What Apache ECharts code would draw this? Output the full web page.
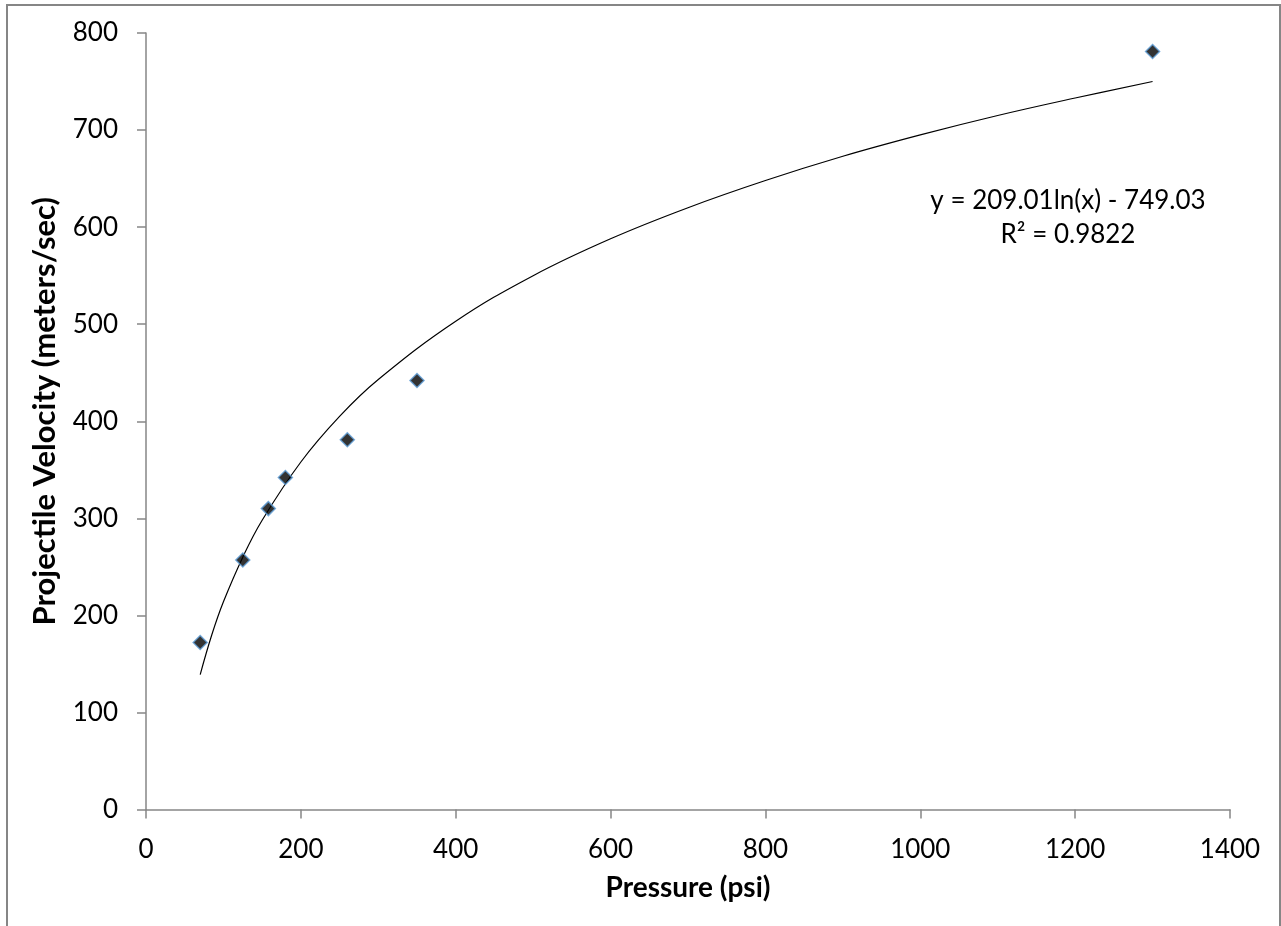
<!DOCTYPE html>
<html>
<head>
<meta charset="utf-8">
<script src="https://cdn.jsdelivr.net/npm/echarts@6/dist/echarts.min.js"></script>
<style>
  html, body { margin: 0; padding: 0; background: #fff; }
  #main { width: 1281px; height: 926px; }
</style>
</head>
<body>
<div id="main"></div>
<script>
// measured points (pressure psi, velocity m/s)
const pressure = [70, 125, 158, 180, 260, 350, 1300];
const velocity = [172, 257, 310, 342, 381, 442, 781];

// trend line
const trendX = [70, 85, 100, 125, 150, 200, 250, 300, 400, 500, 600, 700, 800, 900, 1000, 1100, 1200, 1300];
const trendY = [139, 180, 214, 260, 298, 358, 405, 443, 503, 550, 588, 620, 648, 673, 695, 715, 733, 750];

const eqLine1 = 'y = 209.01ln(x) - 749.03';
const eqLine2 = 'R² = 0.9822';

const axisGray = '#868686';
const font = 'Lato, "Open Sans", sans-serif';

const chart = echarts.init(document.getElementById('main'));

chart.setOption({
  animation: false,
  backgroundColor: '#fff',
  grid: { left: 146, top: 33, right: 51, bottom: 116.5 },
  xAxis: {
    type: 'value',
    min: 0, max: 1400, interval: 200,
    name: 'Pressure (psi)',
    nameLocation: 'middle',
    nameGap: 64,
    nameTextStyle: { fontFamily: font, fontSize: 28, fontWeight: 'bold', color: '#000' },
    axisLine: { show: true, lineStyle: { color: axisGray, width: 1.5 } },
    axisTick: { show: true, length: 9, lineStyle: { color: axisGray, width: 1.5 } },
    axisLabel: { fontFamily: font, fontSize: 26, color: '#000', margin: 27, formatter: v => String(v) },
    splitLine: { show: false }
  },
  yAxis: {
    type: 'value',
    min: 0, max: 800, interval: 100,
    name: 'Projectile Velocity (meters/sec)',
    nameLocation: 'middle',
    nameGap: 86,
    nameTextStyle: { fontFamily: font, fontSize: 31, fontWeight: 'bold', color: '#000', padding: [0, 0, 0, 20] },
    axisLine: { show: true, lineStyle: { color: axisGray, width: 1.5 } },
    axisTick: { show: true, length: 9, lineStyle: { color: axisGray, width: 1.5 } },
    axisLabel: { fontFamily: font, fontSize: 26, color: '#000', margin: 28 },
    splitLine: { show: false }
  },
  series: [
    {
      type: 'line',
      data: trendX.map((x, i) => [x, trendY[i]]),
      smooth: 0.4,
      showSymbol: false,
      lineStyle: { color: '#000', width: 1.2 },
      z: 2
    },
    {
      type: 'scatter',
      data: pressure.map((x, i) => [x, velocity[i]]),
      symbol: 'diamond',
      symbolSize: 14,
      itemStyle: { color: '#000', borderColor: '#5B9BD5', borderWidth: 1.5 },
      z: 3
    }
  ],
  graphic: [
    {
      type: 'rect',
      shape: { x: 7, y: 5, width: 1273, height: 1000 },
      style: { fill: 'none', stroke: axisGray, lineWidth: 2 },
      silent: true
    },
    {
      type: 'text',
      x: 1068, y: 201,
      style: { text: eqLine1, font: '26px ' + font, fill: '#000', textAlign: 'center', textVerticalAlign: 'middle' }
    },
    {
      type: 'text',
      x: 1068, y: 235,
      style: { text: eqLine2, font: '26px ' + font, fill: '#000', textAlign: 'center', textVerticalAlign: 'middle' }
    }
  ]
});
</script>
</body>
</html>
